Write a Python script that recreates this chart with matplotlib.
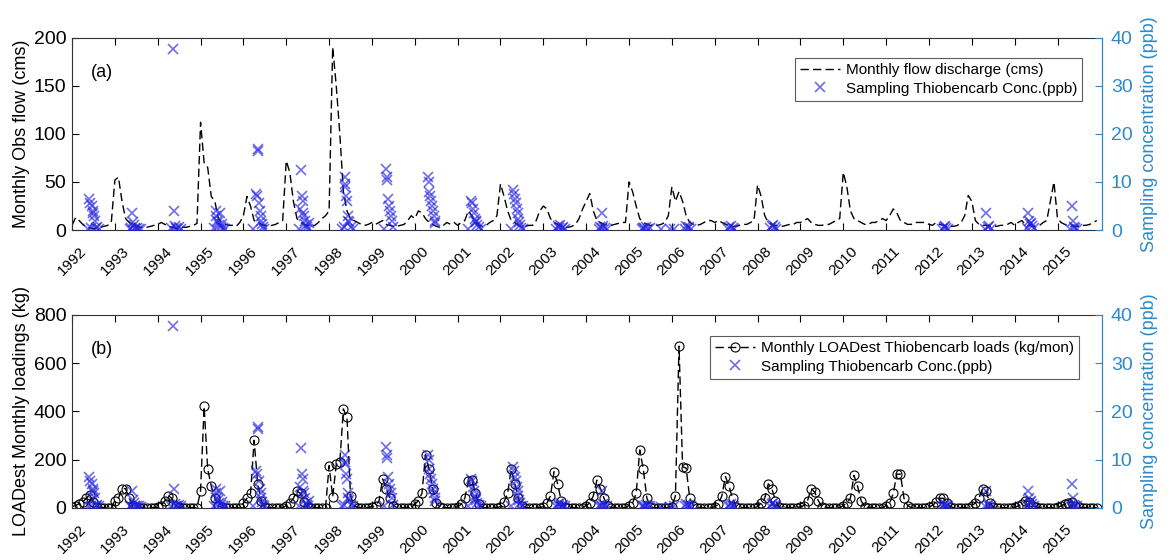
import numpy as np
import matplotlib
matplotlib.use('Agg')
import matplotlib.pyplot as plt

plt.rcParams['font.family'] = ['Liberation Sans', 'DejaVu Sans']

years = list(range(1992, 2016))

# monthly observed flow (cms), one row per year
flow = [
    [5, 13, 10, 6, 3, 2, 2, 2, 3, 4, 5, 8],
    [52, 55, 30, 12, 8, 5, 4, 3, 3, 3, 4, 5],
    [6, 8, 6, 4, 3, 2, 2, 3, 3, 4, 5, 7],
    [112, 70, 65, 35, 30, 12, 8, 6, 5, 5, 4, 8],
    [15, 35, 25, 10, 8, 6, 5, 4, 5, 6, 8, 10],
    [72, 60, 30, 12, 8, 6, 5, 4, 5, 8, 12, 15],
    [20, 190, 150, 100, 40, 20, 12, 10, 8, 6, 5, 6],
    [8, 6, 8, 10, 6, 5, 4, 4, 5, 6, 10, 15],
    [12, 20, 18, 12, 8, 6, 4, 3, 5, 8, 6, 8],
    [5, 8, 10, 20, 15, 8, 5, 4, 5, 8, 10, 15],
    [48, 35, 20, 10, 8, 5, 4, 4, 5, 5, 10, 20],
    [25, 22, 12, 8, 6, 4, 3, 3, 4, 6, 12, 22],
    [30, 38, 20, 10, 8, 6, 5, 5, 6, 7, 8, 8],
    [50, 40, 25, 12, 8, 6, 5, 5, 5, 6, 8, 15],
    [45, 30, 40, 30, 15, 8, 6, 5, 6, 8, 10, 10],
    [8, 10, 8, 6, 5, 4, 4, 5, 6, 6, 8, 10],
    [47, 35, 15, 8, 6, 5, 4, 4, 5, 6, 6, 8],
    [8, 10, 12, 8, 6, 5, 5, 6, 6, 8, 10, 12],
    [60, 45, 20, 12, 10, 8, 6, 6, 8, 8, 10, 12],
    [10, 15, 22, 18, 10, 8, 6, 6, 8, 8, 8, 8],
    [6, 5, 8, 6, 5, 4, 4, 4, 5, 8, 15, 36],
    [30, 10, 6, 5, 5, 4, 4, 4, 5, 5, 6, 8],
    [5, 8, 10, 6, 5, 4, 4, 5, 8, 10, 30, 50],
    [12, 8, 6, 5, 4, 4, 4, 5, 5, 6, 8, 10],
]

# monthly LOADEST thiobencarb loads (kg/mon)
loads = [
    [5, 10, 18, 25, 40, 55, 25, 3, 1, 1, 1, 1],
    [30, 40, 80, 80, 40, 10, 2, 1, 1, 1, 1, 1],
    [2, 10, 30, 50, 40, 8, 2, 1, 1, 1, 1, 1],
    [70, 420, 160, 90, 40, 8, 2, 1, 1, 1, 1, 1],
    [20, 40, 60, 280, 100, 30, 5, 1, 1, 1, 1, 1],
    [10, 20, 40, 70, 60, 25, 5, 1, 1, 1, 1, 1],
    [175, 45, 180, 190, 410, 375, 50, 10, 1, 1, 1, 1],
    [5, 10, 30, 120, 80, 40, 10, 1, 1, 1, 1, 1],
    [15, 30, 60, 220, 160, 80, 20, 2, 1, 1, 1, 1],
    [5, 15, 40, 110, 115, 60, 15, 1, 1, 1, 1, 1],
    [5, 25, 60, 160, 100, 40, 10, 1, 1, 1, 1, 1],
    [5, 20, 50, 150, 100, 30, 5, 1, 1, 1, 1, 1],
    [10, 20, 50, 115, 80, 40, 10, 1, 1, 1, 1, 1],
    [10, 20, 60, 240, 160, 40, 5, 1, 1, 1, 1, 1],
    [5, 50, 670, 170, 165, 40, 10, 1, 1, 1, 1, 1],
    [5, 15, 50, 130, 90, 40, 5, 1, 1, 1, 1, 1],
    [5, 20, 40, 100, 80, 30, 5, 1, 1, 1, 1, 1],
    [5, 10, 30, 80, 65, 30, 5, 1, 1, 1, 1, 1],
    [10, 20, 40, 135, 90, 30, 5, 1, 1, 1, 1, 1],
    [10, 20, 60, 140, 140, 40, 10, 1, 1, 1, 1, 1],
    [5, 10, 25, 40, 40, 20, 5, 1, 1, 1, 1, 1],
    [10, 20, 40, 80, 70, 20, 5, 1, 1, 1, 1, 1],
    [3, 8, 15, 30, 25, 10, 3, 1, 1, 1, 1, 1],
    [3, 8, 15, 20, 25, 10, 3, 1, 1, 1, 1, 1],
]

# grab samples: decimal year and concentration (ppb)
sample_t = [
    1992.38, 1992.40, 1992.42, 1992.44, 1992.46, 1992.48, 1992.50, 1992.52, 1992.54, 1992.56, 1992.58, 1992.62,
    1993.35, 1993.38, 1993.40, 1993.42, 1993.44, 1993.46, 1993.48, 1993.52, 1993.56, 1993.60,
    1994.32, 1994.35, 1994.38, 1994.40, 1994.43, 1994.46, 1994.50, 1994.54,
    1995.32, 1995.35, 1995.37, 1995.39, 1995.41, 1995.43, 1995.45, 1995.47, 1995.50, 1995.53, 1995.57,
    1996.22, 1996.30, 1996.32, 1996.34, 1996.35, 1996.36, 1996.38, 1996.40, 1996.42, 1996.44, 1996.46, 1996.48,
    1997.30, 1997.32, 1997.34, 1997.36, 1997.38, 1997.40, 1997.42, 1997.44, 1997.46, 1997.48, 1997.50, 1997.52,
    1998.30, 1998.34, 1998.36, 1998.37, 1998.38, 1998.40, 1998.41, 1998.43, 1998.45, 1998.47, 1998.50, 1998.56,
    1999.28, 1999.33, 1999.35, 1999.36, 1999.38, 1999.40, 1999.42, 1999.44, 1999.46, 1999.48,
    2000.30, 2000.32, 2000.34, 2000.36, 2000.38, 2000.40, 2000.42, 2000.44, 2000.46, 2000.48,
    2001.25, 2001.32, 2001.34, 2001.36, 2001.38, 2001.40, 2001.42, 2001.44, 2001.46, 2001.50, 2001.55,
    2002.25, 2002.30, 2002.32, 2002.34, 2002.36, 2002.38, 2002.40, 2002.42, 2002.44, 2002.46, 2002.48, 2002.52,
    2003.30, 2003.34, 2003.37, 2003.40, 2003.43, 2003.46, 2003.50,
    2004.30, 2004.33, 2004.36, 2004.38, 2004.40, 2004.44, 2004.48,
    2005.30, 2005.33, 2005.36, 2005.40, 2005.44, 2005.48, 2005.75, 2005.95, 2006.05,
    2006.30, 2006.33, 2006.37, 2006.40, 2006.45,
    2007.30, 2007.34, 2007.38, 2007.42, 2007.46,
    2008.30, 2008.34, 2008.37, 2008.40, 2008.44,
    2012.30, 2012.34, 2012.37, 2012.40, 2012.44,
    2013.30, 2013.34, 2013.37, 2013.40, 2013.44,
    2014.28, 2014.31, 2014.33, 2014.35, 2014.38, 2014.41, 2014.44,
    2015.30, 2015.33, 2015.35, 2015.38, 2015.41, 2015.45,
]
sample_c = [
    0.3, 6.4, 5.6, 0.5, 5.0, 3.6, 4.0, 3.0, 2.0, 0.4, 0.6, 0.3,
    0.3, 0.5, 3.6, 1.6, 1.0, 0.4, 0.3, 0.5, 0.3, 0.2,
    0.5, 37.6, 4.0, 0.8, 0.5, 0.3, 0.6, 0.3,
    0.4, 4.0, 3.0, 2.0, 1.6, 1.0, 3.6, 0.6, 1.2, 0.4, 0.3,
    0.3, 7.6, 7.0, 16.8, 16.4, 5.6, 4.0, 3.0, 2.0, 1.2, 0.6, 0.3,
    0.3, 4.4, 12.4, 7.0, 6.0, 3.6, 3.0, 2.0, 1.0, 0.6, 0.3, 1.4,
    0.3, 0.6, 9.6, 9.0, 11.0, 7.0, 6.0, 3.0, 2.0, 1.6, 0.6, 0.3,
    0.3, 12.6, 11.0, 10.4, 6.4, 5.0, 4.0, 3.0, 2.0, 0.6,
    11.0, 10.0, 8.0, 7.0, 6.0, 5.0, 4.0, 3.0, 2.0, 1.4,
    0.3, 6.0, 5.6, 4.4, 3.6, 2.4, 2.0, 1.6, 1.0, 0.6, 0.3,
    0.3, 8.4, 7.6, 6.4, 5.6, 4.4, 3.6, 2.4, 1.6, 1.0, 0.4, 0.3,
    0.3, 0.8, 0.5, 1.0, 0.4, 0.6, 0.3,
    0.3, 0.6, 0.4, 3.6, 0.8, 0.5, 0.3,
    0.3, 0.5, 0.4, 0.6, 0.3, 0.4, 0.2, 0.2, 0.3,
    0.3, 0.8, 0.5, 0.6, 0.3,
    0.3, 0.6, 0.8, 0.5, 0.3,
    0.4, 0.8, 1.0, 0.6, 0.3,
    0.3, 0.6, 0.8, 0.5, 0.3,
    0.3, 3.6, 0.6, 0.8, 0.3,
    0.5, 3.6, 2.0, 1.2, 1.5, 0.8, 0.4,
    0.3, 5.0, 2.0, 0.6, 0.4, 0.3,
]

t = np.array([y + m / 12 for y in years for m in range(12)])
flow_m = np.array(flow).ravel()
loads_m = np.array(loads).ravel()

right_color = '#2a8acb'
x_color = '#2020e0'

fig = plt.figure(figsize=(11.71, 5.6), dpi=100)
ax1 = fig.add_axes([0.0615, 0.589, 0.880, 0.344])
ax2 = fig.add_axes([0.0615, 0.093, 0.880, 0.345])


def style_axes(ax, ylim, yticks, ylabel, tag):
    ax.set_xlim(1992, 2016.05)
    ax.set_ylim(*ylim)
    ax.set_yticks(yticks)
    ax.set_xticks(years)
    ax.set_xticklabels([str(y) for y in years], rotation=45, ha='center', fontsize=11)
    ax.tick_params(axis='x', direction='in', top=True, length=5, pad=10)
    ax.tick_params(axis='y', direction='in', length=5, labelsize=14, pad=4)
    ax.set_ylabel(ylabel, fontsize=13, labelpad=3)
    ax.text(0.018, 0.82, tag, transform=ax.transAxes, fontsize=13, va='center')
    for s in ax.spines.values():
        s.set_linewidth(0.8)
        s.set_color('#333333')


def style_right(axr):
    axr.set_ylim(0, 40)
    axr.set_yticks([0, 10, 20, 30, 40])
    axr.tick_params(axis='y', direction='in', length=5, colors=right_color, labelsize=14, pad=6)
    axr.set_ylabel('Sampling concentration (ppb)', fontsize=13, color=right_color, labelpad=6)
    axr.spines['right'].set_color(right_color)
    axr.spines['right'].set_linewidth(0.8)
    for k in ['left', 'top', 'bottom']:
        axr.spines[k].set_visible(False)


# (a) flow + samples
l1, = ax1.plot(t, flow_m, color='black', lw=1.0, dashes=(6, 3), label='Monthly flow discharge (cms)')
style_axes(ax1, (0, 200), [0, 50, 100, 150, 200], 'Monthly Obs flow (cms)', '(a)')
ax1r = ax1.twinx()
s1, = ax1r.plot(sample_t, sample_c, 'x', color=x_color, alpha=0.65, ms=6.5, mew=1.2,
                label='Sampling Thiobencarb Conc.(ppb)')
style_right(ax1r)
leg = ax1r.legend(handles=[l1, s1], loc='upper right', bbox_to_anchor=(0.988, 0.935),
                  fontsize=11, frameon=True, fancybox=False, edgecolor='#333333',
                  handlelength=2.6, handletextpad=0.4, borderpad=0.35, labelspacing=0.3)
leg.get_frame().set_linewidth(0.8)

# (b) loads + samples
l2, = ax2.plot(t, loads_m, color='black', lw=1.0, dashes=(6, 3), marker='o', ms=6.5,
               mfc='none', mec='black', mew=0.8,
               label='Monthly LOADest Thiobencarb loads (kg/mon)')
style_axes(ax2, (0, 800), [0, 200, 400, 600, 800], 'LOADest Monthly loadings (kg)', '(b)')
ax2r = ax2.twinx()
s2, = ax2r.plot(sample_t, sample_c, 'x', color=x_color, alpha=0.65, ms=6.5, mew=1.2,
                label='Sampling Thiobencarb Conc.(ppb)')
style_right(ax2r)
leg2 = ax2r.legend(handles=[l2, s2], loc='upper right', bbox_to_anchor=(0.985, 0.93),
                   fontsize=11, frameon=True, fancybox=False, edgecolor='#333333',
                   handlelength=2.6, handletextpad=0.4, borderpad=0.35, labelspacing=0.3)
leg2.get_frame().set_linewidth(0.8)

fig.savefig('out.png', dpi=100)
